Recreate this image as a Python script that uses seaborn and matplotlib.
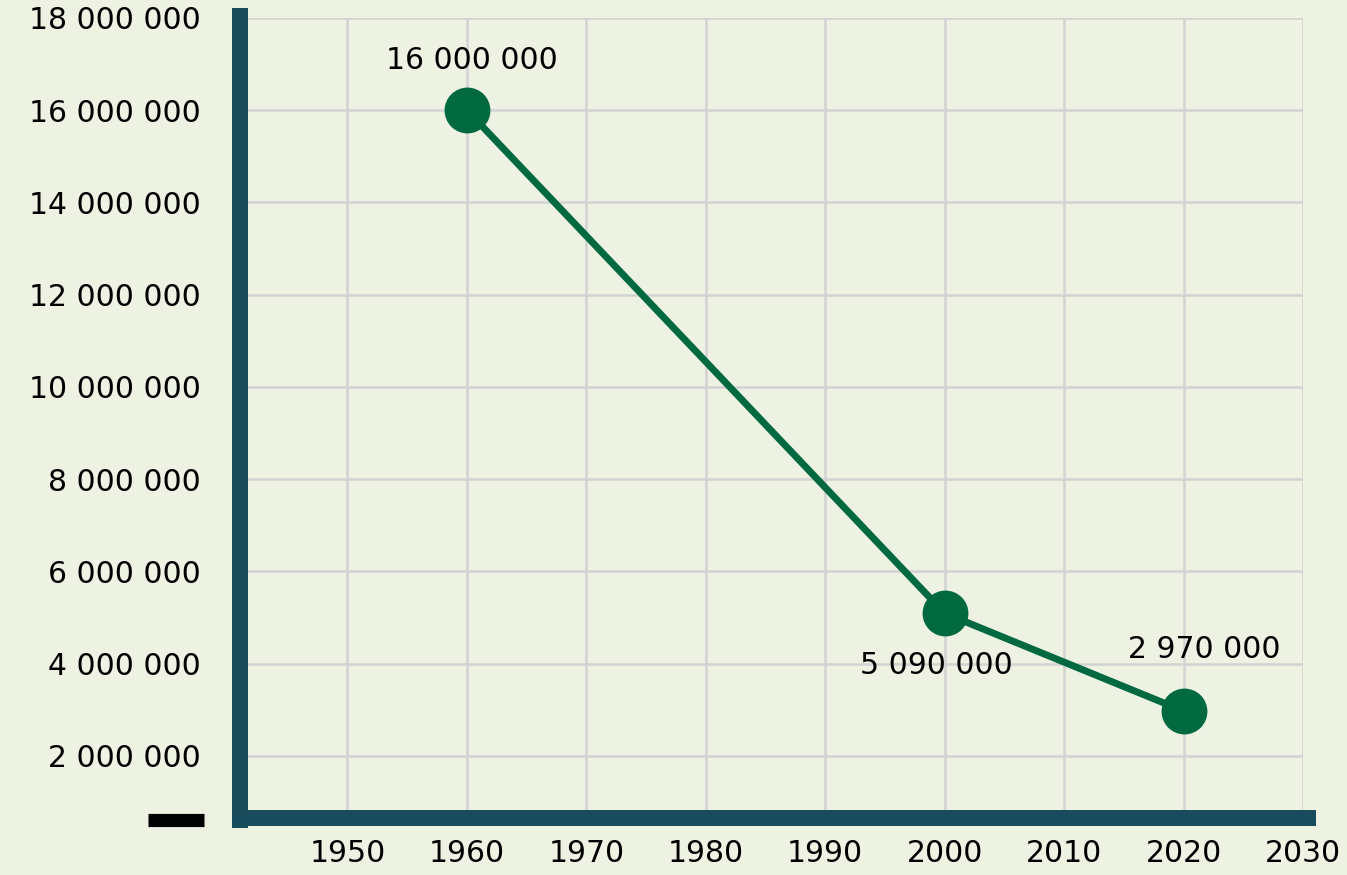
import matplotlib
matplotlib.use("Agg")
import matplotlib.pyplot as plt
import seaborn as sns
import pandas as pd

years = [1960, 2000, 2020]
values = [16000000, 5090000, 2970000]
labels = ["16 000 000", "5 090 000", "2 970 000"]
x_ticks = [1950, 1960, 1970, 1980, 1990, 2000, 2010, 2020, 2030]
y_ticks = [2000000, 4000000, 6000000, 8000000, 10000000, 12000000, 14000000, 16000000, 18000000]

BG = "#eef2e3"
LINE = "#006940"
SPINE = "#184b5b"
GRID = "#d3d3d3"

sns.set_theme(style="white")
plt.rcParams["font.family"] = ["DejaVu Sans"]

W, H = 1347, 875
fig = plt.figure(figsize=(W / 100, H / 100), dpi=100, facecolor=BG)
left, right, top, bottom = 240, 1303, 18, 818
ax = fig.add_axes([left / W, 1 - bottom / H, (right - left) / W, (bottom - top) / H])
ax.set_facecolor(BG)

df = pd.DataFrame({"year": years, "value": values})
sns.lineplot(data=df, x="year", y="value", ax=ax, color=LINE, linewidth=5,
             marker="o", markersize=33, markeredgewidth=0, zorder=5, clip_on=False)

ax.set_xlim(1941.0, 2030)
ax.set_ylim(650000, 18000000)
ax.set_xticks(x_ticks)
ax.set_xticklabels([str(t) for t in x_ticks])
ax.set_yticks(y_ticks)
ax.set_yticklabels([f"{v:,}".replace(",", " ") for v in y_ticks])
ax.grid(True, color=GRID, linewidth=1.8)
ax.set_axisbelow(True)
ax.set_xlabel("")
ax.set_ylabel("")
ax.tick_params(axis="both", length=0, labelsize=21.5, colors="black")
ax.tick_params(axis="y", pad=28)
ax.tick_params(axis="x", pad=15)

for s in ax.spines.values():
    s.set_visible(False)

# thick custom spines
ax.plot([0, 0], [-0.0125, 1.0125], transform=ax.transAxes, color=SPINE,
        linewidth=11.5, solid_capstyle="butt", clip_on=False, zorder=6)
ax.plot([-0.0075, 1.0125], [0, 0], transform=ax.transAxes, color=SPINE,
        linewidth=11.5, solid_capstyle="butt", clip_on=False, zorder=6)
# black dash below the lowest tick
ax.plot([-0.087, -0.034], [-0.003, -0.003], transform=ax.transAxes, color="black",
        linewidth=9.5, solid_capstyle="butt", clip_on=False, zorder=6)

offsets = [(5, 50), (-8, -52), (21, 62)]
for x, y, lab, (dx, dy) in zip(years, values, labels, offsets):
    ax.annotate(lab, (x, y), xytext=(dx * 0.72, dy * 0.72), textcoords="offset points",
                ha="center", va="center", fontsize=21.5, color="black", zorder=7)

fig.savefig("out.png", dpi=100, facecolor=BG)
